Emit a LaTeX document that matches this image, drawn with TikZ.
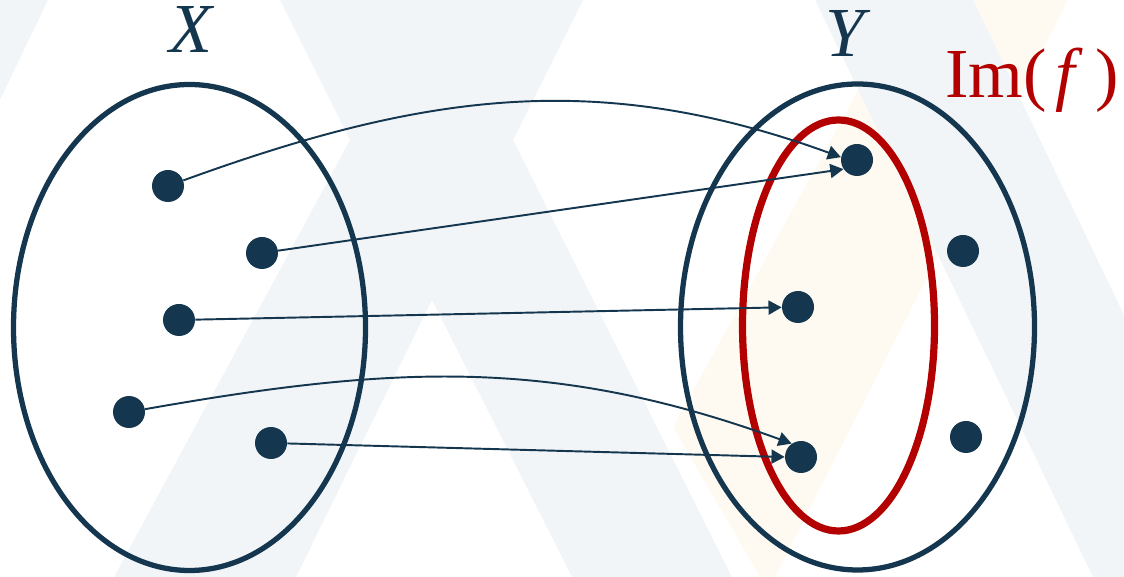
\documentclass[tikz,border=0pt]{standalone}
\usepackage{fontspec}
\setmainfont{Liberation Serif}
\usepackage{tikz}
\usetikzlibrary{arrows.meta}
\definecolor{setnavy}{HTML}{14364E}
\definecolor{imred}{HTML}{B30000}
\definecolor{wmblue}{HTML}{F1F5F8}
\definecolor{wmcream}{HTML}{FEFAF1}
\tikzset{
  setline/.style={draw=setnavy, line width=3pt},
  imline/.style={draw=imred, line width=4.1pt},
  dot/.style={circle, fill=setnavy, inner sep=0pt, minimum size=0.64cm},
  maparrow/.style={draw=setnavy, line width=1.1pt, -{Triangle[length=7.5pt,width=8pt]}},
  setlabel/.style={font=\fontsize{40}{44}\selectfont\itshape, text=setnavy, inner sep=0pt, anchor=base},
  imlabel/.style={font=\fontsize{40}{44}\selectfont, text=imred, inner sep=0pt, anchor=base west}
}

\begin{document}
\begin{tikzpicture}[x=0.02cm,y=0.02cm]
  \path[use as bounding box] (0,0) rectangle (1124,577);

  % watermark in the background
  \fill[wmcream] (908,577) -- (1068,577) -- (775,0) -- (760,0) -- (673,150) -- cycle;
  \fill[wmblue] (0,577) -- (48,577) -- (0,477) -- cycle;
  \fill[wmblue] (280,577) -- (583,577) -- (513,437) -- (732,0) -- (572,0)
    -- (432,277) -- (296,0) -- (114,0) -- (350,437) -- cycle;
  \fill[wmblue] (815,577) -- (973,577) -- (1124,262) -- (1124,0) -- (1093,0) -- cycle;

  \draw[setline] (189.5,249.5) ellipse [x radius=176, y radius=243];
  \draw[setline] (857.5,250) ellipse [x radius=177, y radius=243];
  \draw[imline] (838.5,251.5) ellipse [x radius=96, y radius=205.5];

  \node[setlabel] (xlab) at (191,524) {X};
  \node[setlabel] (ylab) at (845,520) {Y};
  \node[imlabel] (imlab) at (945,479) {Im(\kern0.12em\textit{f}\kern0.18em)};

  \node[dot] (a1) at (168,391) {};
  \node[dot] (a2) at (262,324) {};
  \node[dot] (a3) at (179,257) {};
  \node[dot] (a4) at (129,165) {};
  \node[dot] (a5) at (271,134) {};

  \node[dot] (b1) at (857,417) {};
  \node[dot] (b2) at (963,326) {};
  \node[dot] (b3) at (798,270) {};
  \node[dot] (b4) at (801,120) {};
  \node[dot] (b5) at (966,140) {};

  \draw[maparrow] (a1) to[out=20,in=160] (b1.170);
  \draw[maparrow] (a2) -- (b1.214);
  \draw[maparrow] (a3) -- (b3);
  \draw[maparrow] (a4) to[out=10,in=160] (b4.125);
  \draw[maparrow] (a5) -- (b4.180);
\end{tikzpicture}
\end{document}
